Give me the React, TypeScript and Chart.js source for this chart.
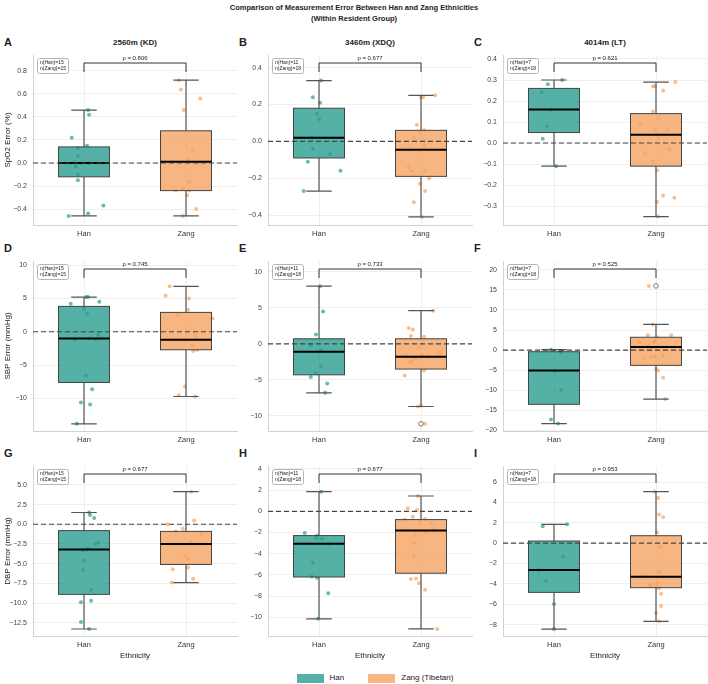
import React, { useEffect, useRef } from 'react';
import { Chart, registerables } from 'chart.js';

Chart.register(...registerables);

const FONT = '"Liberation Sans", Arial, Helvetica, sans-serif';
Chart.defaults.font.family = FONT;

// ---------- text ----------
const TITLE_1 = 'Comparison of Measurement Error Between Han and Zang Ethnicities';
const TITLE_2 = '(Within Resident Group)';
const GROUPS = ['Han', 'Zang'];
const LEGEND_LABELS = ['Han', 'Zang (Tibetan)'];
const SITES = ['2560m (KD)', '3460m (XDQ)', '4014m (LT)'];
const METRICS = ['SpO2 Error (%)', 'SBP Error (mmHg)', 'DBP Error (mmHg)'];
const X_TITLE = 'Ethnicity';
const PANEL_LETTERS = ['A', 'B', 'C', 'D', 'E', 'F', 'G', 'H', 'I'];
const P_VALUES = ['0.806', '0.677', '0.621', '0.745', '0.733', '0.525', '0.677', '0.677', '0.953'];
const N_HAN = [15, 11, 7];
const N_ZANG = [15, 18, 18];

// ---------- y axes ----------
const TICKS_SPO2_KD = [-0.4, -0.2, 0, 0.2, 0.4, 0.6, 0.8];
const TICKS_SPO2_XDQ = [-0.4, -0.2, 0, 0.2, 0.4];
const TICKS_SPO2_LT = [-0.3, -0.2, -0.1, 0, 0.1, 0.2, 0.3, 0.4];
const TICKS_SBP_KD = [-10, -5, 0, 5, 10];
const TICKS_SBP_XDQ = [-10, -5, 0, 5, 10];
const TICKS_SBP_LT = [-20, -15, -10, -5, 0, 5, 10, 15, 20];
const TICKS_DBP_KD = [-12.5, -10, -7.5, -5, -2.5, 0, 2.5, 5];
const TICKS_DBP_XDQ = [-10, -8, -6, -4, -2, 0, 2, 4];
const TICKS_DBP_LT = [-8, -6, -4, -2, 0, 2, 4, 6];
const TICK_DECIMALS = [1, 1, 1, 0, 0, 0, 1, 0, 0];
const Y_MIN = [-0.539, -0.454, -0.39, -14.87, -12.1, -20.15, -14.19, -11.77, -9.11];
const Y_MAX = [0.939, 0.469, 0.419, 10.6, 11.5, 22.2, 7.41, 4.28, 7.57];

// ---------- data: values, jitter (category units), box [lowWhisker, Q1, median, Q3, highWhisker] ----------
const A_HAN = [0.46, 0.42, 0.22, 0.15, 0.13, 0.06, 0.0, 0.0, 0.0, -0.03, -0.1, -0.15, -0.37, -0.44, -0.46];
const A_HAN_JIT = [0.04, 0.05, -0.12, 0.03, -0.06, -0.06, -0.09, -0.02, 0.05, -0.08, -0.06, -0.06, 0.19, 0.04, -0.15];
const A_HAN_BOX = [-0.46, -0.12, 0.0, 0.14, 0.46];
const A_ZANG = [0.72, 0.64, 0.56, 0.46, 0.1, 0.03, 0.01, 0.0, -0.16, -0.22, -0.24, -0.24, -0.28, -0.4, -0.46];
const A_ZANG_JIT = [-0.07, -0.05, 0.14, -0.02, 0.06, 0.02, -0.14, 0.11, 0.03, -0.03, -0.1, 0.03, 0.01, 0.1, -0.03];
const A_ZANG_BOX = [-0.46, -0.24, 0.01, 0.28, 0.72];

const B_HAN = [0.33, 0.24, 0.21, 0.15, 0.12, 0.02, -0.04, -0.07, -0.11, -0.16, -0.27];
const B_HAN_JIT = [0.02, -0.06, 0.01, -0.02, 0.0, -0.07, -0.06, 0.11, -0.11, 0.21, -0.15];
const B_HAN_BOX = [-0.27, -0.09, 0.02, 0.18, 0.33];
const B_ZANG = [0.24, 0.24, 0.25, 0.09, 0.06, 0.05, 0.02, -0.02, -0.045, -0.045, -0.14, -0.16, -0.16, -0.2, -0.23, -0.27, -0.33, -0.41];
const B_ZANG_JIT = [0.0, 0.02, 0.14, -0.04, 0.03, -0.01, -0.07, 0.03, -0.12, -0.01, -0.12, -0.09, 0.04, 0.08, -0.01, 0.04, -0.07, 0.01];
const B_ZANG_BOX = [-0.41, -0.19, -0.045, 0.06, 0.25];

const C_HAN = [0.3, 0.28, 0.24, 0.16, 0.08, 0.02, -0.11];
const C_HAN_JIT = [0.08, -0.06, -0.12, -0.03, -0.07, -0.11, 0.02];
const C_HAN_BOX = [-0.11, 0.05, 0.16, 0.26, 0.3];
const C_ZANG = [0.29, 0.27, 0.27, 0.25, 0.15, 0.12, 0.09, 0.06, 0.06, 0.02, -0.03, -0.05, -0.09, -0.13, -0.25, -0.26, -0.28, -0.35];
const C_ZANG_JIT = [0.19, -0.03, -0.01, 0.07, -0.03, 0.03, -0.15, -0.01, 0.11, 0.02, 0.13, -0.11, -0.03, 0.01, 0.07, 0.18, 0.01, 0.02];
const C_ZANG_BOX = [-0.35, -0.11, 0.04, 0.14, 0.29];

const D_HAN = [5.2, 5.2, 4.5, 4.2, 3.5, 2.7, -0.5, -1.2, -1.0, -1.2, -6.6, -8.6, -10.6, -10.9, -13.8];
const D_HAN_JIT = [0.02, 0.04, 0.15, -0.13, 0.0, 0.03, 0.14, -0.09, 0.05, 0.11, 0.02, 0.08, -0.03, 0.06, -0.07];
const D_HAN_BOX = [-13.8, -7.6, -1.0, 3.8, 5.2];
const D_ZANG = [6.8, 5.4, 5.0, 3.3, 2.5, 2.0, -1.2, -1.2, -0.6, -2.1, -2.9, -2.7, -8.2, -9.5, -9.7];
const D_ZANG_JIT = [-0.16, -0.2, 0.03, 0.02, -0.08, 0.26, -0.18, -0.01, 0.09, 0.06, 0.07, 0.11, -0.01, -0.07, 0.09];
const D_ZANG_BOX = [-9.7, -2.7, -1.2, 2.9, 6.8];

const E_HAN = [8.0, 4.5, 1.3, -0.2, -0.9, -1.1, -3.1, -4.1, -4.6, -5.5, -6.8];
const E_HAN_JIT = [0.01, 0.04, -0.03, -0.08, 0.02, 0.0, 0.02, -0.03, -0.08, 0.08, 0.06];
const E_HAN_BOX = [-6.8, -4.3, -1.1, 0.7, 8.0];
const E_ZANG = [4.6, 2.2, 2.0, 1.1, 1.0, -1.6, -1.5, -1.8, -2.6, -2.0, -2.3, -3.7, -4.4, -8.7, -8.6, -11.1, -1.2, -0.5];
const E_ZANG_JIT = [0.12, -0.12, -0.08, -0.1, 0.03, -0.15, 0.01, 0.07, -0.11, -0.05, -0.09, 0.03, -0.16, -0.03, 0.0, 0.04, 0.18, -0.02];
const E_ZANG_BOX = [-8.7, -3.5, -1.8, 0.7, 4.6];
const E_ZANG_FLIERS = [-11.1];

const F_HAN = [0.1, -0.3, -0.6, -5.2, -9.9, -17.3, -18.3];
const F_HAN_JIT = [-0.03, 0.06, 0.07, 0.01, 0.07, -0.03, 0.04];
const F_HAN_BOX = [-18.3, -13.5, -5.1, -0.4, 0.1];
const F_ZANG = [16.0, 6.4, 3.7, 3.7, 3.2, 2.3, 2.0, 2.0, 1.0, 0.5, -1.2, -2.1, -1.8, -1.5, -4.7, -5.1, -6.9, -12.2];
const F_ZANG_JIT = [-0.07, -0.03, -0.08, 0.15, 0.01, -0.01, -0.16, -0.02, -0.07, -0.05, 0.07, -0.12, -0.05, -0.01, 0.0, 0.02, 0.07, 0.09];
const F_ZANG_BOX = [-12.2, -3.8, 0.8, 3.2, 6.4];
const F_ZANG_FLIERS = [16.0];

const G_HAN = [1.5, 1.2, 0.8, -2.3, -2.5, -3.1, -3.2, -3.3, -4.6, -5.8, -8.3, -9.9, -9.7, -12.4, -13.3];
const G_HAN_JIT = [0.05, 0.06, 0.1, 0.14, 0.11, 0.04, 0.03, -0.01, 0.0, -0.01, 0.07, -0.03, 0.07, -0.03, 0.05];
const G_HAN_BOX = [-13.3, -8.9, -3.2, -0.8, 1.5];
const G_ZANG = [4.15, 0.5, 0.0, -0.55, -1.2, -2.5, -2.5, -2.2, -4.1, -4.4, -5.7, -5.5, -6.9, -7.4, -0.9];
const G_ZANG_JIT = [0.05, 0.08, -0.18, -0.03, 0.15, -0.13, -0.02, 0.05, -0.01, 0.02, -0.13, 0.02, 0.07, -0.14, -0.1];
const G_ZANG_BOX = [-7.4, -5.1, -2.5, -0.9, 4.15];

const H_HAN = [1.86, -2.04, -2.3, -2.5, -2.6, -3.07, -4.84, -6.16, -6.28, -7.73, -10.15];
const H_HAN_JIT = [0.02, -0.14, -0.02, -0.03, 0.03, 0.1, -0.06, -0.07, -0.02, 0.09, -0.01];
const H_HAN_BOX = [-10.15, -6.2, -3.07, -2.29, 1.86];
const H_ZANG = [1.45, 0.3, 0.15, -0.5, -0.78, -0.72, -1.1, -1.7, -1.0, -2.0, -2.2, -2.95, -4.27, -6.4, -6.35, -6.8, -7.4, -11.1];
const H_ZANG_JIT = [-0.03, -0.13, -0.04, -0.08, -0.16, 0.04, 0.1, 0.13, -0.01, 0.05, -0.06, -0.07, -0.07, -0.1, -0.05, -0.02, 0.04, 0.16];
const H_ZANG_BOX = [-11.1, -5.84, -1.82, -0.78, 1.45];

const I_HAN = [1.85, 1.65, -1.3, -2.64, -3.68, -5.97, -8.43];
const I_HAN_JIT = [0.13, -0.11, 0.09, -0.15, -0.08, 0.0, 0.0];
const I_HAN_BOX = [-8.43, -4.83, -2.64, 0.21, 1.85];
const I_ZANG = [5.05, 4.43, 2.8, 2.53, 1.06, -0.38, -2.83, -3.32, -3.32, -4.2, -4.43, -4.07, -4.96, -6.17, -6.86, -7.67, -4.14, -3.85];
const I_ZANG_JIT = [-0.01, 0.02, 0.03, 0.07, 0.01, 0.04, 0.03, -0.13, 0.07, -0.07, 0.03, 0.0, 0.05, 0.05, 0.0, 0.03, -0.05, 0.01];
const I_ZANG_BOX = [-7.67, -4.37, -3.29, 0.73, 5.05];

const NONE: number[] = [];

// ---------- styles ----------
const BOX_FILL = ['rgba(42,157,143,0.8)', 'rgba(244,162,97,0.8)'];
const POINT_FILL = ['rgba(42,157,143,0.7)', 'rgba(244,162,97,0.7)'];
const GRID = '#ebebeb';
const SPINE = '#d2d2d2';

const COL_LEFT = [0, 235, 470];
const ROW_TOP = [55, 261, 466];
const PLOT_W = 204;
const PLOT_H = 170;
const Y_AXIS_W = 33;
const PAD_TOP = 14;
const PAD_RIGHT = 2;
const X_AXIS_H = 26;
const BOX_HALF = 0.25;
const CAP_HALF = 0.125;

type Panel = {
  ticks: number[];
  values: number[][];
  jitter: number[][];
  boxes: number[][];
  fliers: number[][];
};

const PANELS: Panel[] = [
  { ticks: TICKS_SPO2_KD, values: [A_HAN, A_ZANG], jitter: [A_HAN_JIT, A_ZANG_JIT], boxes: [A_HAN_BOX, A_ZANG_BOX], fliers: [NONE, NONE] },
  { ticks: TICKS_SPO2_XDQ, values: [B_HAN, B_ZANG], jitter: [B_HAN_JIT, B_ZANG_JIT], boxes: [B_HAN_BOX, B_ZANG_BOX], fliers: [NONE, NONE] },
  { ticks: TICKS_SPO2_LT, values: [C_HAN, C_ZANG], jitter: [C_HAN_JIT, C_ZANG_JIT], boxes: [C_HAN_BOX, C_ZANG_BOX], fliers: [NONE, NONE] },
  { ticks: TICKS_SBP_KD, values: [D_HAN, D_ZANG], jitter: [D_HAN_JIT, D_ZANG_JIT], boxes: [D_HAN_BOX, D_ZANG_BOX], fliers: [NONE, NONE] },
  { ticks: TICKS_SBP_XDQ, values: [E_HAN, E_ZANG], jitter: [E_HAN_JIT, E_ZANG_JIT], boxes: [E_HAN_BOX, E_ZANG_BOX], fliers: [NONE, E_ZANG_FLIERS] },
  { ticks: TICKS_SBP_LT, values: [F_HAN, F_ZANG], jitter: [F_HAN_JIT, F_ZANG_JIT], boxes: [F_HAN_BOX, F_ZANG_BOX], fliers: [NONE, F_ZANG_FLIERS] },
  { ticks: TICKS_DBP_KD, values: [G_HAN, G_ZANG], jitter: [G_HAN_JIT, G_ZANG_JIT], boxes: [G_HAN_BOX, G_ZANG_BOX], fliers: [NONE, NONE] },
  { ticks: TICKS_DBP_XDQ, values: [H_HAN, H_ZANG], jitter: [H_HAN_JIT, H_ZANG_JIT], boxes: [H_HAN_BOX, H_ZANG_BOX], fliers: [NONE, NONE] },
  { ticks: TICKS_DBP_LT, values: [I_HAN, I_ZANG], jitter: [I_HAN_JIT, I_ZANG_JIT], boxes: [I_HAN_BOX, I_ZANG_BOX], fliers: [NONE, NONE] },
];

const fmt = (v: number, d: number) => {
  const s = Math.abs(v).toFixed(d);
  return v < -1e-9 ? '\u2212' + s : s;
};

const boxPlugin = {
  id: 'boxes',
  afterDatasetsDraw(chart: any, _args: any, opts: any) {
    const idx: number = opts.idx;
    const p = PANELS[idx];
    const { ctx, chartArea: a } = chart;
    const x = chart.scales.x;
    const y = chart.scales.y;
    ctx.save();
    ctx.beginPath();
    ctx.rect(a.left, a.top, a.right - a.left, a.bottom - a.top);
    ctx.clip();
    p.boxes.forEach((b: number[], g: number) => {
      const xc = x.getPixelForValue(g);
      const x0 = x.getPixelForValue(g - BOX_HALF);
      const x1 = x.getPixelForValue(g + BOX_HALF);
      const c0 = x.getPixelForValue(g - CAP_HALF);
      const c1 = x.getPixelForValue(g + CAP_HALF);
      const [lo, q1, med, q3, hi] = b.map((v) => y.getPixelForValue(v));
      ctx.strokeStyle = '#555555';
      ctx.lineWidth = 1.2;
      ctx.beginPath();
      ctx.moveTo(xc, q3); ctx.lineTo(xc, hi);
      ctx.moveTo(xc, q1); ctx.lineTo(xc, lo);
      ctx.moveTo(c0, hi); ctx.lineTo(c1, hi);
      ctx.moveTo(c0, lo); ctx.lineTo(c1, lo);
      ctx.stroke();
      ctx.fillStyle = BOX_FILL[g];
      ctx.fillRect(x0, q3, x1 - x0, q1 - q3);
      ctx.strokeStyle = '#444444';
      ctx.lineWidth = 1;
      ctx.strokeRect(x0, q3, x1 - x0, q1 - q3);
      ctx.strokeStyle = '#000000';
      ctx.lineWidth = 2;
      ctx.beginPath();
      ctx.moveTo(x0, med); ctx.lineTo(x1, med);
      ctx.stroke();
      p.fliers[g].forEach((v) => {
        ctx.strokeStyle = '#7a7a7a';
        ctx.lineWidth = 1;
        ctx.beginPath();
        ctx.arc(xc, y.getPixelForValue(v), 2.3, 0, Math.PI * 2);
        ctx.stroke();
      });
    });
    const zy = y.getPixelForValue(0);
    ctx.strokeStyle = '#444444';
    ctx.lineWidth = 1.1;
    ctx.setLineDash([5, 3]);
    ctx.beginPath();
    ctx.moveTo(a.left, zy); ctx.lineTo(a.right, zy);
    ctx.stroke();
    ctx.restore();
  },
  afterDraw(chart: any, _args: any, opts: any) {
    const idx: number = opts.idx;
    const col = idx % 3;
    const { ctx, chartArea: a } = chart;
    const x = chart.scales.x;
    const xh = x.getPixelForValue(0);
    const xz = x.getPixelForValue(1);
    ctx.save();
    ctx.strokeStyle = '#333333';
    ctx.lineWidth = 1;
    ctx.beginPath();
    ctx.moveTo(xh, a.top + 17); ctx.lineTo(xh, a.top + 8); ctx.lineTo(xz, a.top + 8); ctx.lineTo(xz, a.top + 17);
    ctx.stroke();
    ctx.fillStyle = '#222222';
    ctx.font = `6px ${FONT}`;
    ctx.textAlign = 'center';
    ctx.textBaseline = 'middle';
    ctx.fillText(`p = ${P_VALUES[idx]}`, (xh + xz) / 2, a.top + 3);
    // n box
    const bx = a.left + 4, by = a.top + 3, bw = 31, bh = 15;
    ctx.beginPath();
    (ctx as any).roundRect(bx + 0.5, by + 0.5, bw, bh, 2);
    ctx.fillStyle = 'rgba(255,255,255,0.85)';
    ctx.fill();
    ctx.strokeStyle = '#b5b5b5';
    ctx.lineWidth = 1;
    ctx.stroke();
    ctx.fillStyle = '#222222';
    ctx.font = `5px ${FONT}`;
    ctx.textAlign = 'left';
    ctx.fillText(`n(Han)=${N_HAN[col]}`, bx + 3, by + 5);
    ctx.fillText(`n(Zang)=${N_ZANG[col]}`, bx + 3, by + 11);
    ctx.restore();
  },
};

function PanelChart({ idx }: { idx: number }) {
  const ref = useRef<HTMLCanvasElement>(null);
  const row = Math.floor(idx / 3);
  const col = idx % 3;
  const W = Y_AXIS_W + PLOT_W + PAD_RIGHT;
  const H = PAD_TOP + PLOT_H + X_AXIS_H;
  useEffect(() => {
    const p = PANELS[idx];
    const chart = new Chart(ref.current as HTMLCanvasElement, {
      type: 'scatter',
      data: {
        datasets: p.values.map((vals, g) => ({
          data: vals.map((v, i) => ({ x: g + p.jitter[g][i], y: v })),
          backgroundColor: POINT_FILL[g],
          borderWidth: 0,
          pointRadius: 2,
          pointHoverRadius: 2,
        })),
      },
      options: {
        responsive: false,
        animation: false,
        events: [],
        layout: { padding: { top: PAD_TOP, right: PAD_RIGHT, left: 0, bottom: 0 } },
        plugins: {
          legend: { display: false },
          tooltip: { enabled: false },
          boxes: { idx },
        } as any,
        scales: {
          x: {
            type: 'linear',
            min: -0.5,
            max: 1.5,
            afterBuildTicks: (s: any) => { s.ticks = GROUPS.map((_, i) => ({ value: i })); },
            afterFit: (s: any) => { s.height = X_AXIS_H; },
            ticks: { callback: (v: any) => GROUPS[Math.round(Number(v))], font: { size: 7.5 }, color: '#333333', padding: 4, maxRotation: 0 },
            grid: { color: GRID, lineWidth: 0.8, drawTicks: false },
            border: { color: SPINE, width: 1 },
            title: { display: row === 2, text: X_TITLE, font: { size: 8 }, color: '#222222', padding: { top: 0, bottom: 1 } },
          },
          y: {
            type: 'linear',
            min: Y_MIN[idx],
            max: Y_MAX[idx],
            afterBuildTicks: (s: any) => { s.ticks = p.ticks.map((v) => ({ value: v })); },
            afterFit: (s: any) => { s.width = Y_AXIS_W; },
            ticks: { callback: (v: any) => fmt(Number(v), TICK_DECIMALS[idx]), font: { size: 7 }, color: '#444444', padding: 6 },
            grid: { color: GRID, lineWidth: 0.8, drawTicks: false },
            border: { color: SPINE, width: 1 },
            title: { display: col === 0, text: METRICS[row], font: { size: 8 }, color: '#222222', padding: { top: 3, bottom: 0 } },
          },
        },
      } as any,
      plugins: [boxPlugin as any],
    });
    return () => chart.destroy();
  }, [idx]);
  return (
    <canvas
      ref={ref}
      width={W}
      height={H}
      style={{ position: 'absolute', left: COL_LEFT[col], top: ROW_TOP[row] - PAD_TOP, width: W, height: H }}
    />
  );
}

export default function App() {
  const textBase: React.CSSProperties = { position: 'absolute', fontFamily: FONT, color: '#222', whiteSpace: 'nowrap' };
  return (
    <div style={{ position: 'absolute', left: 0, top: 0, width: 708, height: 684, background: '#fff', overflow: 'hidden' }}>
      <div style={{ ...textBase, left: 0, width: 708, top: 2, textAlign: 'center', fontWeight: 'bold', fontSize: 7.5, lineHeight: '11px' }}>
        <div>{TITLE_1}</div>
        <div>{TITLE_2}</div>
      </div>
      {PANEL_LETTERS.map((L, i) => {
        const r = Math.floor(i / 3), c = i % 3;
        return (
          <div key={L} style={{ ...textBase, left: COL_LEFT[c] + 4, top: ROW_TOP[r] - 19, fontWeight: 'bold', fontSize: 11, lineHeight: '12px' }}>{L}</div>
        );
      })}
      {SITES.map((s, c) => (
        <div key={s} style={{ ...textBase, left: COL_LEFT[c] + Y_AXIS_W, width: PLOT_W, top: ROW_TOP[0] - 17, textAlign: 'center', fontWeight: 'bold', fontSize: 8, lineHeight: '10px' }}>{s}</div>
      ))}
      {PANELS.map((_, i) => <PanelChart key={i} idx={i} />)}
      <div style={{ ...textBase, left: 21, width: 708, top: 672, display: 'flex', justifyContent: 'center', alignItems: 'center', fontSize: 8, lineHeight: '12px' }}>
        {LEGEND_LABELS.map((l, g) => (
          <div key={l} style={{ display: 'flex', alignItems: 'center', marginLeft: g ? 24 : 0 }}>
            <span style={{ display: 'inline-block', width: 27, height: 9, background: BOX_FILL[g], marginRight: 6 }} />
            <span>{l}</span>
          </div>
        ))}
      </div>
    </div>
  );
}
